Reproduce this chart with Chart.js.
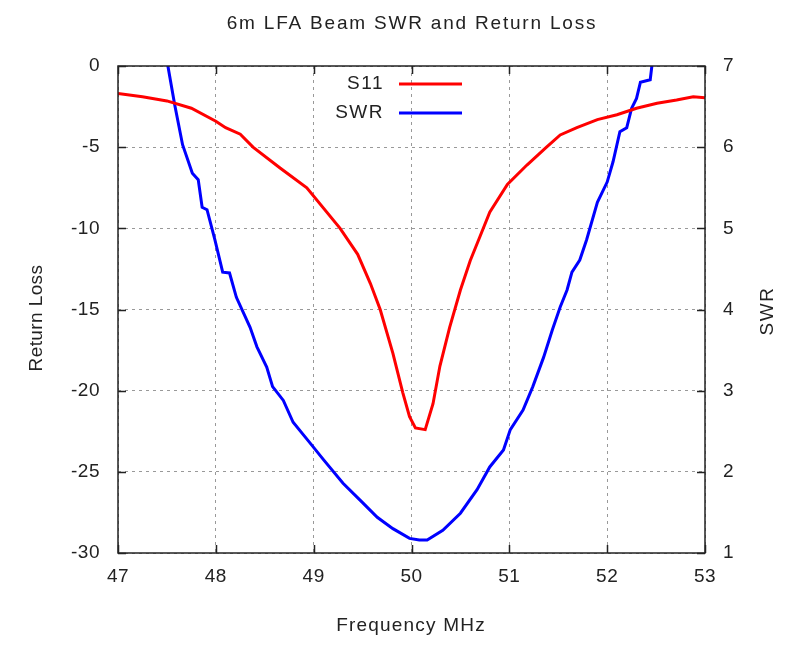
<!DOCTYPE html>
<html>
<head>
<meta charset="utf-8">
<script src="https://cdn.jsdelivr.net/npm/chart.js@4"></script>
<style>
  body { margin: 0; background: #fff; }
  canvas { display: block; }
</style>
</head>
<body>
<canvas id="myChart" width="805" height="655"></canvas>
<script>
// frequency (MHz) and return loss (dB)
const s11Freq = [47.0, 47.25, 47.5, 47.75, 48.0, 48.1, 48.25, 48.38, 48.66, 48.93, 49.27, 49.45, 49.58, 49.68,
  49.81, 49.91, 49.98, 50.04, 50.14, 50.22, 50.29, 50.39, 50.5, 50.6, 50.7, 50.8, 50.98, 51.18, 51.38,
  51.52, 51.69, 51.9, 52.1, 52.3, 52.51, 52.71, 52.88, 53.0];
const s11Values = [-1.7, -1.9, -2.15, -2.6, -3.4, -3.8, -4.2, -5.0, -6.3, -7.5, -10.0, -11.6, -13.4, -15.0,
  -17.7, -20.1, -21.6, -22.3, -22.4, -20.8, -18.5, -16.1, -13.8, -12.0, -10.5, -9.0, -7.3, -6.1, -5.0,
  -4.25, -3.8, -3.3, -3.0, -2.6, -2.3, -2.1, -1.9, -1.95];

// frequency (MHz) and SWR
const swrFreq = [47.49, 47.51, 47.58, 47.66, 47.76, 47.82, 47.86, 47.91, 47.99, 48.07, 48.14, 48.21, 48.35,
  48.42, 48.52, 48.58, 48.69, 48.79, 48.96, 49.1, 49.3, 49.5, 49.65, 49.81, 49.98, 50.08, 50.16, 50.32,
  50.5, 50.67, 50.8, 50.94, 51.01, 51.14, 51.24, 51.35, 51.44, 51.52, 51.59, 51.64, 51.72, 51.79, 51.9,
  52.0, 52.06, 52.13, 52.2, 52.25, 52.3, 52.34, 52.44, 52.46, 52.47];
const swrValues = [7.2, 7.0, 6.52, 6.03, 5.68, 5.6, 5.26, 5.23, 4.86, 4.46, 4.45, 4.15, 3.78,
  3.54, 3.29, 3.05, 2.88, 2.61, 2.36, 2.15, 1.86, 1.62, 1.44, 1.3, 1.18, 1.16, 1.16, 1.28,
  1.49, 1.78, 2.06, 2.27, 2.52, 2.76, 3.05, 3.41, 3.75, 4.03, 4.24, 4.46, 4.61, 4.86, 5.32,
  5.57, 5.82, 6.19, 6.24, 6.48, 6.6, 6.8, 6.83, 7.03, 7.2];

const titleText = '6m LFA Beam SWR and Return Loss';
const xTitle = 'Frequency MHz';
const yTitle = 'Return Loss';
const y2Title = 'SWR';

const fontFamily = '"Liberation Sans", Arial, sans-serif';
const textColor = '#222';

// gnuplot-ish text is a bit spread out
const spacing = {
  id: 'spacing',
  beforeDraw(chart) { chart.ctx.letterSpacing = '0.5px'; }
};

// frame, inner ticks, titles and legend
const gnuplotDecor = {
  id: 'gnuplotDecor',
  afterDatasetsDraw(chart) {
    const { ctx, chartArea: a, scales } = chart;
    ctx.save();
    ctx.strokeStyle = '#222';
    ctx.lineWidth = 1.5;
    ctx.strokeRect(a.left, a.top, a.right - a.left, a.bottom - a.top);
    ctx.beginPath();
    scales.x.ticks.forEach(t => {
      const px = Math.round(scales.x.getPixelForValue(t.value)) + 0.5;
      ctx.moveTo(px, a.bottom); ctx.lineTo(px, a.bottom - 8);
      ctx.moveTo(px, a.top); ctx.lineTo(px, a.top + 8);
    });
    scales.y.ticks.forEach(t => {
      const py = Math.round(scales.y.getPixelForValue(t.value)) + 0.5;
      ctx.moveTo(a.left, py); ctx.lineTo(a.left + 8, py);
    });
    scales.y2.ticks.forEach(t => {
      const py = Math.round(scales.y2.getPixelForValue(t.value)) + 0.5;
      ctx.moveTo(a.right, py); ctx.lineTo(a.right - 8, py);
    });
    ctx.stroke();

    ctx.fillStyle = textColor;
    ctx.textAlign = 'center';
    ctx.textBaseline = 'middle';
    ctx.font = '19px ' + fontFamily;
    ctx.letterSpacing = '1.8px';
    ctx.fillText(titleText, 412, 24);

    ctx.letterSpacing = '1.2px';
    ctx.fillText(xTitle, 411, 626);

    ctx.letterSpacing = '0.4px';
    ctx.translate(37, 318);
    ctx.rotate(-Math.PI / 2);
    ctx.fillText(yTitle, 0, 0);
    ctx.setTransform(1, 0, 0, 1, 0, 0);

    ctx.letterSpacing = '1.5px';
    ctx.translate(768, 311);
    ctx.rotate(-Math.PI / 2);
    ctx.fillText(y2Title, 0, 0);
    ctx.setTransform(1, 0, 0, 1, 0, 0);

    // legend
    ctx.textAlign = 'right';
    chart.data.datasets.forEach((ds, i) => {
      const ly = 84 + i * 29;
      ctx.fillStyle = textColor;
      ctx.fillText(ds.label, 384, ly);
      ctx.strokeStyle = ds.borderColor;
      ctx.lineWidth = 3;
      ctx.beginPath();
      ctx.moveTo(399, ly);
      ctx.lineTo(462, ly);
      ctx.stroke();
    });
    ctx.restore();
  }
};

const tickFont = { family: fontFamily, size: 19 };
const dotted = { color: '#999', lineWidth: 1, drawTicks: false, tickBorderDash: [3, 4] };

new Chart(document.getElementById('myChart').getContext('2d'), {
  type: 'line',
  data: {
    datasets: [{
      label: 'S11',
      data: s11Freq.map((f, i) => ({ x: f, y: s11Values[i] })),
      borderColor: '#ff0000',
      borderWidth: 3,
      pointRadius: 0,
      yAxisID: 'y'
    }, {
      label: 'SWR',
      data: swrFreq.map((f, i) => ({ x: f, y: swrValues[i] })),
      borderColor: '#0000ff',
      borderWidth: 3,
      pointRadius: 0,
      yAxisID: 'y2'
    }]
  },
  options: {
    responsive: false,
    animation: false,
    layout: { padding: { top: 66, left: 0, right: 0, bottom: 0 } },
    plugins: { legend: { display: false }, tooltip: { enabled: false } },
    scales: {
      x: {
        type: 'linear', min: 47, max: 53,
        ticks: { stepSize: 1, color: textColor, font: tickFont, padding: 12 },
        grid: { ...dotted },
        border: { display: false, dash: [3, 4] },
        afterFit: s => { s.height = 102; }
      },
      y: {
        position: 'left', min: -30, max: 0,
        ticks: { stepSize: 5, color: textColor, font: tickFont, padding: 18 },
        grid: { ...dotted },
        border: { display: false, dash: [3, 4] },
        afterFit: s => { s.width = 118; }
      },
      y2: {
        position: 'right', min: 1, max: 7,
        ticks: { stepSize: 1, color: textColor, font: tickFont, padding: 10 },
        grid: { display: false },
        border: { display: false },
        afterFit: s => { s.width = 100; }
      }
    }
  },
  plugins: [spacing, gnuplotDecor]
});
</script>
</body>
</html>
